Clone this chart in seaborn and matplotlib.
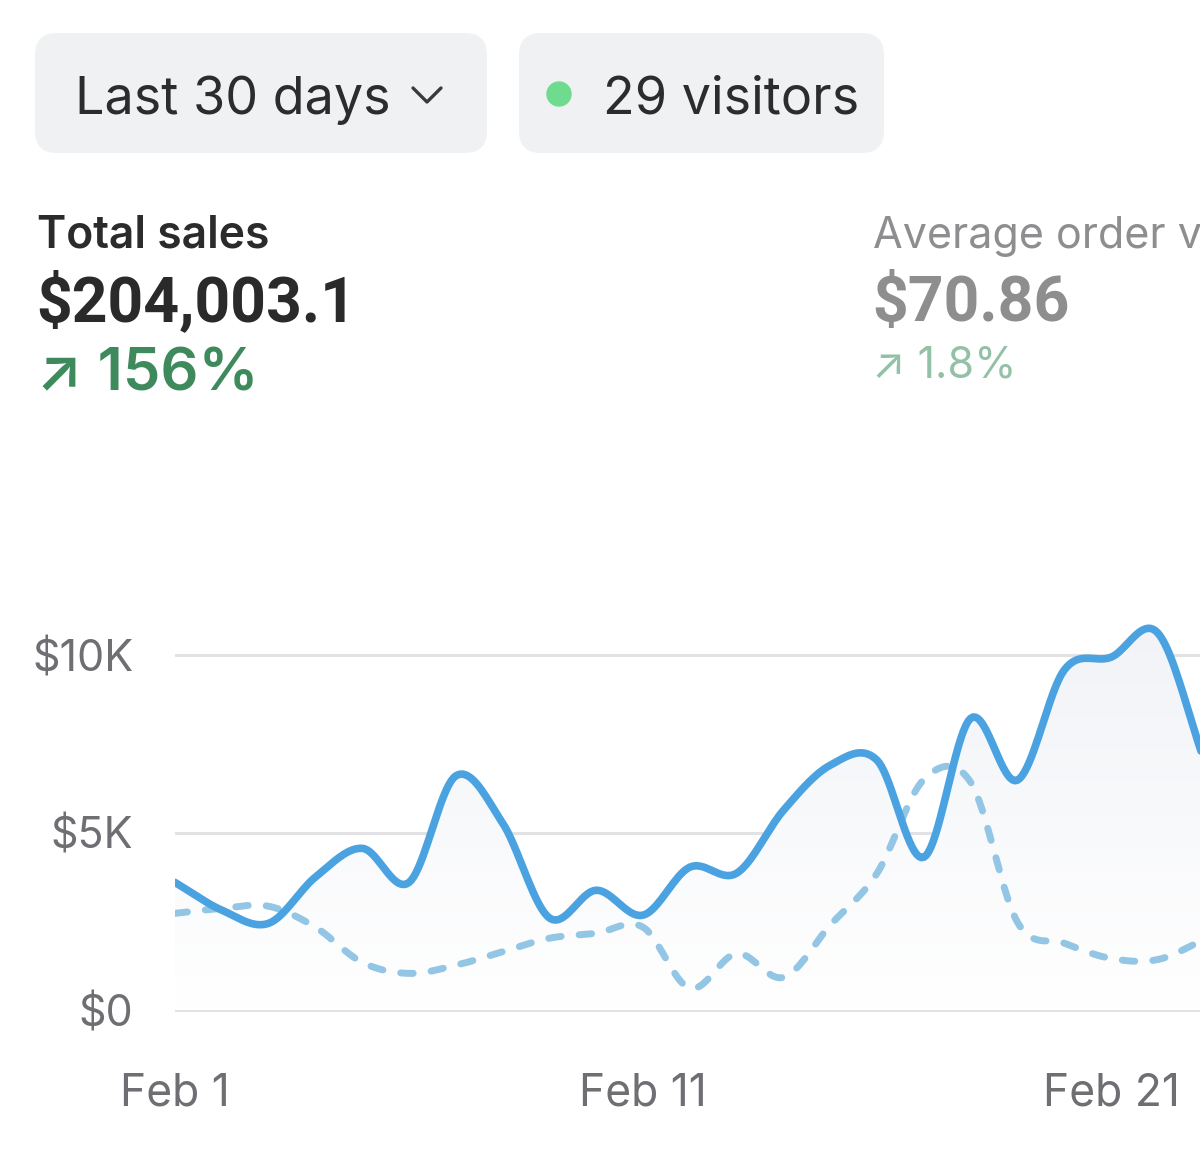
import numpy as np
import pandas as pd
import seaborn as sns
import matplotlib.pyplot as plt
from matplotlib.patches import FancyBboxPatch, Circle
from matplotlib.lines import Line2D
from matplotlib.transforms import IdentityTransform

# Daily values (in $K), Feb 1 .. Feb 23
days = list(range(23))
sales = [3.6, 2.82, 2.45, 3.75, 4.56, 3.6, 6.6, 5.27, 2.6, 3.38, 2.68, 4.03,
         3.86, 5.63, 6.9, 7.04, 4.31, 8.22, 6.48, 9.58, 9.94, 10.62, 7.0]
prev_sales = [2.73, 2.87, 2.93, 2.34, 1.35, 1.04, 1.27, 1.65, 2.03, 2.17, 2.34, 0.62,
              1.6, 0.93, 2.4, 3.86, 6.5, 6.42, 2.48, 1.89, 1.46, 1.43, 2.0]
tick_days = [0, 10, 20]
tick_labels = ["Feb 1", "Feb 11", "Feb 21"]
y_ticks = [0, 5, 10]
y_labels = ["$0", "$5K", "$10K"]


def smooth(x, y, n=20):
    # Catmull-Rom spline through the points, only for drawing a curved line
    x = np.asarray(x, float)
    y = np.asarray(y, float)
    xp = np.concatenate([[2 * x[0] - x[1]], x, [2 * x[-1] - x[-2]]])
    yp = np.concatenate([[2 * y[0] - y[1]], y, [2 * y[-1] - y[-2]]])
    xs, ys = [], []
    t = np.linspace(0, 1, n, endpoint=False)
    for i in range(1, len(xp) - 2):
        m0 = (yp[i + 1] - yp[i - 1]) / 2
        m1 = (yp[i + 2] - yp[i]) / 2
        h00 = 2 * t**3 - 3 * t**2 + 1
        h10 = t**3 - 2 * t**2 + t
        h01 = -2 * t**3 + 3 * t**2
        h11 = t**3 - t**2
        xs.append(xp[i] + t * (xp[i + 1] - xp[i]))
        ys.append(h00 * yp[i] + h10 * m0 + h01 * yp[i + 1] + h11 * m1)
    xs.append([x[-1]])
    ys.append([y[-1]])
    return np.concatenate(xs), np.concatenate(ys)


sx, sy = smooth(days, sales)
px, py = smooth(days, prev_sales)
df = pd.DataFrame({"day": sx, "value": sy})
df_prev = pd.DataFrame({"day": px, "value": py})

sns.set_theme(style="white")
plt.rcParams['font.family'] = ['Inter', 'DejaVu Sans']

W, H = 1200, 1175
fig = plt.figure(figsize=(12, 11.75), dpi=100)
fig.patch.set_facecolor("white")

# axes placement in pixels (top-origin)
ax_left, ax_right = 175, 1200
ax_top, ax_bottom = 600, 1021
ax = fig.add_axes([ax_left / W, 1 - ax_bottom / H, (ax_right - ax_left) / W,
                   (ax_bottom - ax_top) / H])
ax.set_ylim(-0.3, 11.55)
ax.set_xlim(0, 21.9)

# soft gradient fill under the sales line
fill = ax.fill_between(sx, sy, 0, color="none", lw=0)
grad = np.linspace(0, 1, 256).reshape(-1, 1)
img = ax.imshow(grad, extent=[0, 22, 0, 11.0], origin="lower", aspect="auto",
                cmap=plt.matplotlib.colors.LinearSegmentedColormap.from_list(
                    "g", ["#ffffff", "#f1f3f7"]), zorder=1)
img.set_clip_path(fill.get_paths()[0], transform=ax.transData)

for v in y_ticks:
    ax.axhline(v, color="#e2e2e4", lw=2.2, zorder=0)

sns.lineplot(data=df_prev, x="day", y="value", ax=ax, color="#93c5e4", lw=5.0,
             zorder=2, sort=False)
ax.lines[-1].set_dashes((1.8, 2.6))
ax.lines[-1].set_dash_capstyle("round")
sns.lineplot(data=df, x="day", y="value", ax=ax, color="#4aa3e0", lw=5.5,
             zorder=3, sort=False)
ax.lines[-1].set_solid_capstyle("round")

ax.set_xticks(tick_days)
ax.set_xticklabels(tick_labels)
ax.set_yticks(y_ticks)
ax.set_yticklabels(y_labels)
ax.tick_params(axis="both", length=0, labelsize=31, labelcolor="#6e6e73")
ax.tick_params(axis="x", labelsize=32, pad=37)
ax.tick_params(axis="y", pad=30)
ax.set_xlabel("")
ax.set_ylabel("")
sns.despine(ax=ax, left=True, bottom=True)
ax.patch.set_alpha(0)


def fy(py_):
    return 1 - py_ / H


# header pills
pix = IdentityTransform()
for x0, x1 in [(35, 487), (519, 884)]:
    fig.add_artist(FancyBboxPatch((x0 + 22, H - 153 + 22), x1 - x0 - 44, 120 - 44,
                                  boxstyle="round,pad=22", transform=pix,
                                  facecolor="#f0f1f3", edgecolor="none"))
fig.add_artist(Line2D([413, 427, 441], [H - 88, H - 102, H - 88], transform=pix,
                      color="#3a3a3c", lw=2.4, solid_capstyle="round",
                      solid_joinstyle="round"))
fig.add_artist(Circle((559, H - 94), 12, transform=pix, color="#6edb8e"))

fig.text(75 / W, fy(114), "Last 30 days", fontsize=37.5, color="#2c2c2e", va="baseline")
fig.text(603 / W, fy(114), "29 visitors", fontsize=37.5, color="#2c2c2e", va="baseline")

# KPI blocks
num_font = ['Roboto', 'DejaVu Sans']
fig.text(37 / W, fy(248), "Total sales", fontsize=32, fontweight="semibold",
         color="#2b2b2b", va="baseline")
fig.text(36 / W, fy(321), "$204,003.1", fontsize=45, fontweight="bold",
         color="#2a2a2a", va="baseline", family=num_font)
fig.text(36 / W, fy(390), "↗ 156%", fontsize=43, fontweight="semibold",
         color="#3f8a5c", va="baseline")

fig.text(873 / W, fy(248), "Average order value", fontsize=31,
         color="#8e8e90", va="baseline")
fig.text(872 / W, fy(321), "$70.86", fontsize=45, fontweight="bold",
         color="#8e8e8e", va="baseline", family=num_font)
fig.text(872 / W, fy(378), "↗ 1.8%", fontsize=31, color="#92c1a7", va="baseline")

fig.savefig("out.png", dpi=100)
